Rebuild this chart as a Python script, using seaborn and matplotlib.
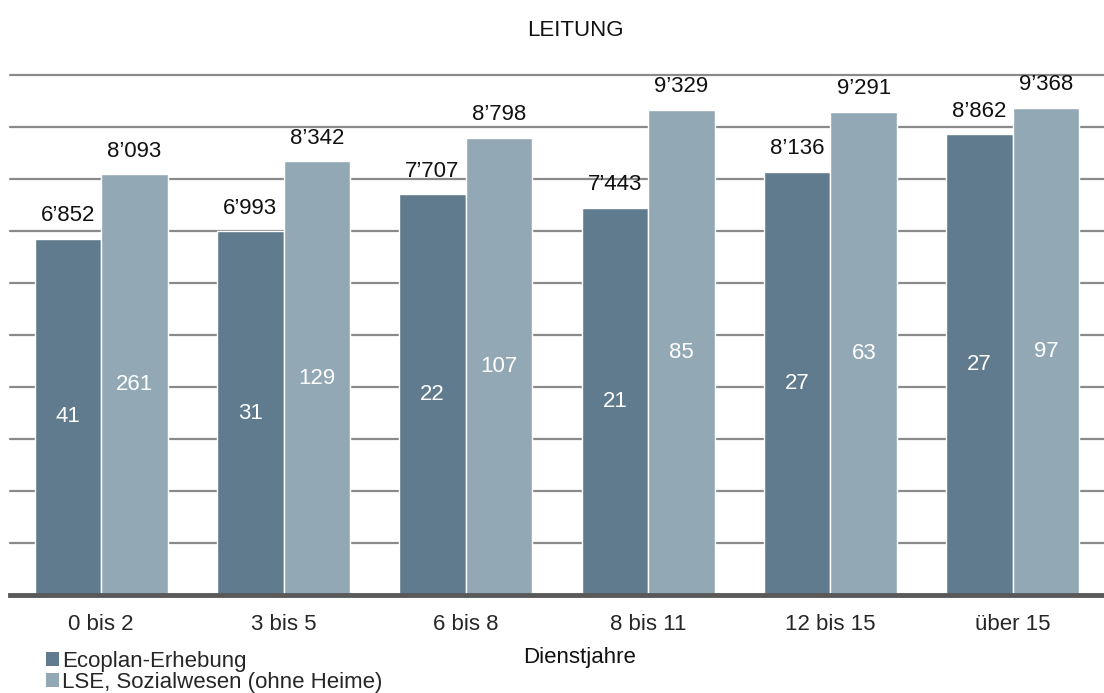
import matplotlib
matplotlib.use("Agg")
import matplotlib.pyplot as plt
from matplotlib.patches import Patch
import seaborn as sns
import pandas as pd

categories = ["0 bis 2", "3 bis 5", "6 bis 8", "8 bis 11", "12 bis 15", "über 15"]
series_names = ["Ecoplan-Erhebung", "LSE, Sozialwesen (ohne Heime)"]
ecoplan_values = [6852, 6993, 7707, 7443, 8136, 8862]
lse_values = [8093, 8342, 8798, 9329, 9291, 9368]
ecoplan_counts = [41, 31, 22, 21, 27, 27]
lse_counts = [261, 129, 107, 85, 63, 97]

colors = ["#5f7b8d", "#92a9b5"]

df = pd.DataFrame({
    "Dienstjahre": categories * 2,
    "Lohn": ecoplan_values + lse_values,
    "Quelle": [series_names[0]] * len(categories) + [series_names[1]] * len(categories),
})

sns.set_theme(style="white")
plt.rcParams["font.family"] = ["Liberation Sans", "DejaVu Sans"]

fig = plt.figure(figsize=(11.04, 6.93), dpi=100)
ax = fig.add_axes([10 / 1104, 1 - 595 / 693, 1 - 10 / 1104, (595 - 75) / 693])

sns.barplot(data=df, x="Dienstjahre", y="Lohn", hue="Quelle", palette=colors,
            saturation=1, width=0.73, gap=0, ax=ax, legend=False, zorder=3)

ax.set_ylim(0, 10000)
ax.set_xlim(-0.5, len(categories) - 0.5)
ax.set_yticks(range(1000, 10001, 1000))
ax.set_yticklabels([])
ax.tick_params(axis="y", length=0)
ax.tick_params(axis="x", length=0, labelsize=16, pad=14)
ax.yaxis.grid(True, color="#8a8a8a", linewidth=1.6, zorder=0)
for gl in ax.get_ygridlines():
    gl.set_clip_on(False)
ax.set_axisbelow(True)
for side in ["left", "right", "top"]:
    ax.spines[side].set_visible(False)
ax.spines["bottom"].set_color("#595959")
ax.spines["bottom"].set_linewidth(3.5)
ax.spines["bottom"].set_zorder(5)
ax.set_xlabel("")
ax.set_ylabel("")

def fmt(v):
    return f"{v:,}".replace(",", "\u2019")

for cont, vals, counts in zip(ax.containers, [ecoplan_values, lse_values],
                              [ecoplan_counts, lse_counts]):
    ax.bar_label(cont, labels=[fmt(v) for v in vals], padding=9, fontsize=16,
                 color="#111111")
    ax.bar_label(cont, labels=[str(c) for c in counts], label_type="center",
                 fontsize=16, color="white")

fig.text(575 / 1104, 1 - 30 / 693, "LEITUNG", ha="center", va="center",
         fontsize=16, color="#111111")
fig.text(580 / 1104, 1 - 657 / 693, "Dienstjahre", ha="center", va="center",
         fontsize=16, color="#111111")

handles = [Patch(facecolor=c, edgecolor="none") for c in colors]
fig.legend(handles, series_names, loc="upper left",
           bbox_to_anchor=(46 / 1104, 1 - 651 / 693), frameon=False,
           fontsize=16, handlelength=0.6, handleheight=0.6, handletextpad=0.12,
           labelspacing=0.0, borderpad=0, borderaxespad=0)

fig.savefig("out.png", dpi=100)
